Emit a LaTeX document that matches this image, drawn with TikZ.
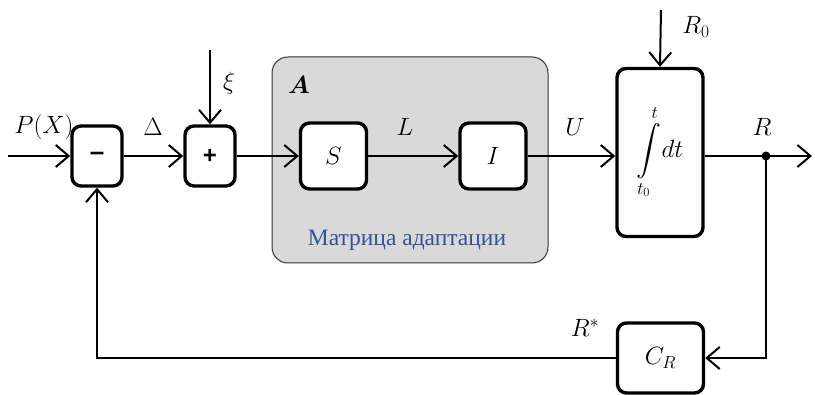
\RequirePackage{fix-cm}
\documentclass[tikz,border=0pt]{standalone}
\usepackage{amsmath,bm}
\usepackage{fontspec}
\setmainfont{Liberation Serif}
\setsansfont{Liberation Sans}
\usetikzlibrary{arrows.meta}
\definecolor{capblue}{RGB}{47,85,151}
\definecolor{panel}{RGB}{217,217,217}
\begin{document}
\begin{tikzpicture}[x=1pt,y=-1pt,
  blk/.style={draw,line width=3.4pt,rounded corners=9pt,fill=white,inner sep=0pt,
              font=\fontsize{25}{30}\selectfont},
  sig/.style={line width=2pt,-{Straight Barb[length=13pt,width=22pt,line width=2pt]}},
  lbl/.style={font=\fontsize{25}{30}\selectfont,inner sep=0pt}]

\useasboundingbox (0,0) rectangle (815,395);

% adaptation matrix panel
\node[draw=black!80,line width=1pt,fill=panel,rounded corners=16pt,
      minimum width=276pt,minimum height=206pt] (A) at (410,160) {};
\node[lbl] (Alab) at (299,85) {$\bm{A}$};
\node[font=\fontsize{23.5}{28}\selectfont,text=capblue,inner sep=0pt] (Acap) at (407,240) {Матрица адаптации};

% blocks
\node[blk,minimum width=50pt,minimum height=60pt] (minus) at (97,156) {\sffamily\bfseries\fontsize{26}{30}\selectfont –};
\node[blk,minimum width=50pt,minimum height=60pt] (plus) at (210,156) {\sffamily\bfseries\fontsize{24}{28}\selectfont +};
\node[blk,minimum width=66pt,minimum height=66pt] (S) at (333.5,156) {$S$};
\node[blk,minimum width=66pt,minimum height=66pt] (I) at (493,156) {$I$};
\node[blk,minimum width=86pt,minimum height=168pt] (int) at (660,152.5)
  {$\displaystyle\int\limits_{t_0}^{t}\!dt$};
\node[blk,minimum width=86pt,minimum height=70pt] (CR) at (660.5,358) {$C_R$};

% free ends and junction
\coordinate (in) at (8,156);
\coordinate (out) at (812,156);
\coordinate (xi) at (210,50);
\coordinate (r0) at (661,10);
\coordinate (J) at (766,156);

% signal flow
\draw[sig] (in) -- (minus.west);
\draw[sig] (minus.east) -- (plus.west);
\draw[sig] (xi) -- (plus.north);
\draw[sig] (plus.east) -- (S.west);
\draw[sig] (S.east) -- (I.west);
\draw[sig] (I.east) -- (int.west |- I.east);
\draw[sig] (r0) -- (int.north);
\draw[sig] (int.east |- J) -- (out);
\fill (J) circle (4.5pt);
\draw[sig] (J) |- (CR.east);
\draw[sig] (CR.west) -| (minus.south);

% signal labels
\node[lbl] (lP) at (44,127) {$P(X)$};
\node[lbl] (lD) at (153,127) {$\Delta$};
\node[lbl] (lxi) at (229,83) {$\xi$};
\node[lbl] (lL) at (405,127) {$L$};
\node[lbl] (lU) at (575,127) {$U$};
\node[lbl] (lR) at (762,127) {$R$};
\node[lbl] (lR0) at (696,27) {$R_0$};
\node[lbl] (lRs) at (585,328) {$R^*$};
\end{tikzpicture}
\end{document}
